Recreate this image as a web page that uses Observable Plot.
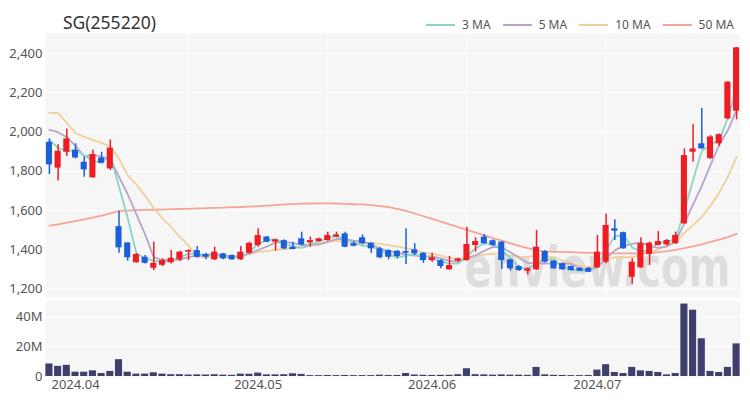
<!DOCTYPE html>
<html><head><meta charset="utf-8">
<script src="https://cdn.jsdelivr.net/npm/d3@7"></script>
<script src="https://cdn.jsdelivr.net/npm/@observablehq/plot@0.6"></script>
<style>
body{margin:0;background:#fff;font-family:"Noto Sans",sans-serif;}
#wrap{position:relative;width:750px;height:400px;overflow:hidden;}
#head{position:relative;height:33px;}
#title{position:absolute;left:63px;top:10px;font-size:17.5px;line-height:24px;color:#333;white-space:nowrap;}
#legend{position:absolute;right:16px;top:16px;display:flex;gap:12px;font-size:12px;line-height:18px;color:#555;}
.item{display:flex;align-items:center;white-space:nowrap;}
.sw{width:29px;height:2px;margin-right:7px;}
svg{display:block;}
</style></head>
<body>
<div id="wrap">
  <div id="head"><div id="title">SG(255220)</div><div id="legend"></div></div>
  <div id="price"></div>
  <div id="vol"></div>
</div>
<script>
const dates = ["2024-03-27","2024-03-28","2024-03-29",
"2024-04-01","2024-04-02","2024-04-03","2024-04-04","2024-04-05","2024-04-08","2024-04-09","2024-04-11","2024-04-12","2024-04-15","2024-04-16","2024-04-17","2024-04-18","2024-04-19","2024-04-22","2024-04-23","2024-04-24","2024-04-25","2024-04-26","2024-04-29","2024-04-30",
"2024-05-02","2024-05-03","2024-05-07","2024-05-08","2024-05-09","2024-05-10","2024-05-13","2024-05-14","2024-05-16","2024-05-17","2024-05-20","2024-05-21","2024-05-22","2024-05-23","2024-05-24","2024-05-27","2024-05-28","2024-05-29","2024-05-30","2024-05-31",
"2024-06-03","2024-06-04","2024-06-05","2024-06-07","2024-06-10","2024-06-11","2024-06-12","2024-06-13","2024-06-14","2024-06-17","2024-06-18","2024-06-19","2024-06-20","2024-06-21","2024-06-24","2024-06-25","2024-06-26","2024-06-27","2024-06-28",
"2024-07-01","2024-07-02","2024-07-03","2024-07-04","2024-07-05","2024-07-08","2024-07-09","2024-07-10","2024-07-11","2024-07-12","2024-07-15","2024-07-16","2024-07-17","2024-07-18","2024-07-19","2024-07-22","2024-07-23"];

const open = [1948,1816,1897,1906,1846,1767,1868,1812,1518,1435,
1334,1362,1306,1321,1334,1349,1388,1396,1376,1349,
1379,1371,1349,1382,1422,1465,1439,1447,1413,1456,
1435,1442,1447,1465,1481,1431,1461,1433,1405,1396,
1393,1391,1400,1382,1345,1345,1298,1342,1345,1422,
1465,1446,1439,1349,1315,1291,1298,1391,1342,1329,
1315,1306,1306,1308,1337,1507,1487,1260,1308,1376,
1422,1425,1431,1532,1897,1940,1865,1940,2067,2106];

const high = [1965,1935,2016,1940,1872,1909,1897,1960,1595,1435,
1382,1371,1439,1354,1396,1393,1400,1417,1382,1413,
1382,1374,1417,1439,1507,1468,1451,1451,1439,1490,
1465,1459,1490,1490,1490,1441,1476,1436,1413,1400,
1396,1507,1431,1385,1382,1349,1366,1357,1515,1461,
1478,1450,1442,1352,1318,1308,1498,1396,1345,1332,
1318,1308,1310,1473,1583,1553,1490,1354,1461,1440,
1493,1452,1490,1914,2037,2120,1982,1990,2256,2431];

const low = [1783,1750,1875,1863,1770,1765,1838,1804,1382,1342,
1332,1328,1294,1315,1328,1340,1345,1357,1349,1345,
1349,1347,1345,1378,1413,1436,1393,1400,1401,1420,
1413,1440,1444,1462,1411,1416,1425,1382,1354,1349,
1354,1325,1371,1331,1337,1303,1296,1337,1342,1388,
1428,1418,1300,1291,1291,1272,1296,1331,1301,1296,
1292,1289,1284,1305,1329,1447,1403,1224,1306,1320,
1420,1420,1428,1530,1846,1912,1860,1926,2062,2062];

const close = [1833,1902,1965,1868,1807,1885,1841,1918,1410,1359,
1376,1331,1331,1345,1357,1388,1396,1362,1362,1388,
1354,1349,1388,1433,1473,1439,1451,1405,1401,1425,
1447,1456,1473,1476,1413,1418,1431,1405,1359,1362,
1366,1382,1379,1345,1359,1315,1320,1354,1427,1442,
1431,1421,1345,1303,1294,1303,1413,1337,1303,1298,
1294,1291,1286,1388,1524,1495,1405,1337,1431,1433,
1442,1447,1473,1880,1914,1914,1975,1987,2254,2429];

// volume in millions
const volume = [8.4,6.8,7.5,2.9,2.9,3.8,2.0,3.4,11.3,2.9,
1.6,1.6,2.5,1.6,1.2,1.2,1.0,1.1,1.0,1.2,
0.9,0.8,1.6,1.5,2.3,1.1,1.1,1.2,1.8,1.4,
0.6,0.6,0.7,0.6,0.7,0.6,0.6,0.6,0.9,0.7,
0.7,2.0,1.0,0.8,0.7,0.8,0.8,1.2,5.2,1.2,
1.1,0.9,1.1,0.9,0.9,0.8,6.1,1.1,0.8,0.7,
0.6,0.6,0.7,4.3,7.9,2.7,2.0,6.1,3.8,3.4,
2.7,1.1,2.0,48.6,44.5,25.3,3.4,2.7,6.1,21.9];

const ma3 = [1960,1920,1900,1912,1880,1853,1844,1881,1723,1562,
1382,1355,1346,1336,1344,1363,1380,1382,1373,1371,
1368,1364,1364,1390,1431,1448,1454,1432,1419,1410,
1424,1443,1459,1468,1454,1436,1421,1418,1398,1375,
1362,1370,1376,1369,1361,1340,1331,1330,1367,1408,
1433,1431,1399,1356,1314,1300,1337,1351,1351,1313,
1298,1294,1290,1322,1399,1469,1475,1412,1391,1400,
1435,1441,1454,1600,1756,1903,1934,1959,2072,2223];

const ma5 = [2011,1999,1973,1931,1875,1885,1873,1864,1772,1683,
1581,1479,1361,1348,1348,1350,1363,1370,1373,1379,
1372,1363,1368,1382,1399,1416,1437,1440,1434,1424,
1426,1427,1440,1455,1453,1447,1442,1429,1405,1395,
1385,1375,1370,1367,1366,1356,1344,1339,1355,1372,
1395,1415,1413,1388,1359,1333,1332,1330,1330,1331,
1329,1305,1294,1311,1357,1397,1420,1430,1438,1420,
1410,1418,1445,1535,1631,1726,1831,1934,2009,2112];

const ma10 = [2098,2098,2045,1995,1975,1960,1945,1925,1865,1779,
1733,1676,1613,1560,1515,1466,1421,1366,1361,1364,
1361,1363,1369,1378,1389,1394,1400,1404,1408,1412,
1421,1432,1440,1445,1439,1437,1435,1435,1430,1424,
1416,1409,1399,1386,1381,1370,1359,1354,1361,1369,
1375,1380,1375,1371,1365,1363,1373,1371,1359,1345,
1332,1318,1312,1321,1344,1363,1362,1362,1375,1388,
1403,1419,1438,1487,1526,1568,1625,1690,1772,1872];

const ma50 = [1523,1530,1538,1546,1555,1564,1574,1586,1598,1600,
1602,1603,1604,1605,1607,1608,1609,1611,1612,1614,
1615,1617,1618,1620,1622,1625,1628,1631,1633,1635,
1636,1637,1637,1636,1634,1632,1631,1628,1623,1617,
1608,1598,1585,1571,1558,1544,1530,1516,1502,1488,
1474,1460,1447,1433,1420,1408,1397,1392,1390,1389,
1388,1386,1384,1382,1382,1382,1382,1382,1383,1385,
1388,1393,1400,1408,1418,1428,1440,1452,1465,1481];

const priceTicks = [1200,1400,1600,1800,2000,2200,2400];
const volTicks = [0,20,40];
const volLabels = ["0","20M","40M"];
const monthTicks = ["2024-04-01","2024-05-02","2024-06-03","2024-07-01"];
const monthLabels = ["2024.04","2024.05","2024.06","2024.07"];
const gridDates = ["2024-04-19","2024-05-16","2024-06-10","2024-07-02"];
const maNames = ["3 MA","5 MA","10 MA","50 MA"];
const maKeys = ["ma3","ma5","ma10","ma50"];
const maColors = ["#8ad5c6","#b6a5c8","#f0cf9c","#f6a496"];
const watermark = "enview.com";

const UP = "#ef1c23", DOWN = "#1b5fd9", VOLC = "#3f3f6e";

const rows = dates.map((d, i) => ({
  date: d, open: open[i], high: high[i], low: low[i], close: close[i],
  vol: volume[i], ma3: ma3[i], ma5: ma5[i], ma10: ma10[i], ma50: ma50[i]
}));
const col = d => d.close >= d.open ? UP : DOWN;

// legend
const leg = document.getElementById("legend");
maNames.forEach((n, i) => {
  const it = document.createElement("div"); it.className = "item";
  const sw = document.createElement("span"); sw.className = "sw"; sw.style.background = maColors[i];
  const tx = document.createElement("span"); tx.textContent = n;
  it.appendChild(sw); it.appendChild(tx); leg.appendChild(it);
});

const baseStyle = {fontFamily: "'Noto Sans', sans-serif", fontSize: "13px", color: "#555", background: "transparent", overflow: "visible"};
const xBand = {type: "band", domain: dates, paddingInner: 0.3, paddingOuter: 0.1};

const maMarks = [3,2,1,0].map(i => Plot.lineY(rows, {x: "date", y: maKeys[i], stroke: maColors[i], strokeWidth: 1.8}));

const price = Plot.plot({
  width: 750, height: 267,
  marginTop: 0, marginBottom: 3, marginLeft: 45, marginRight: 10,
  style: baseStyle,
  x: {...xBand, axis: null},
  y: {domain: [1157, 2502], ticks: priceTicks, tickFormat: d3.format(","), tickSize: 0, tickPadding: 3, label: null},
  marks: [
    Plot.frame({fill: "#f6f6f6", stroke: "none"}),
    Plot.ruleY(priceTicks, {stroke: "#fff", strokeWidth: 1}),
    Plot.ruleX(gridDates, {stroke: "#fff", strokeWidth: 1}),
    Plot.text([watermark], {frameAnchor: "bottom-right", dx: -10, dy: -29, lineAnchor: "middle", textAnchor: "end", fontSize: 56, fontWeight: "bold", fontFamily: "'Liberation Sans Narrow', 'DejaVu Sans Condensed', sans-serif", fill: "#000", fillOpacity: 0.1}),
    ...maMarks,
    Plot.ruleX(rows, {x: "date", y1: "low", y2: "high", stroke: col, strokeWidth: 1.5}),
    Plot.barY(rows, {x: "date", y1: "open", y2: "close", fill: col})
  ]
});
d3.select(price).selectAll("text").filter(function(){ return this.textContent === watermark; })
  .attr("textLength", 266).attr("lengthAdjust", "spacingAndGlyphs");
document.getElementById("price").appendChild(price);

const vol = Plot.plot({
  width: 750, height: 100,
  marginTop: 0, marginBottom: 24, marginLeft: 45, marginRight: 10,
  style: baseStyle,
  x: {...xBand, ticks: monthTicks, tickFormat: d => { const k = monthTicks.indexOf(d); return k >= 0 ? monthLabels[k] : ""; }, tickSize: 0, tickPadding: 3, label: null},
  y: {domain: [0, 51], ticks: volTicks, tickFormat: d => volLabels[volTicks.indexOf(d)], tickSize: 0, tickPadding: 3, label: null},
  marks: [
    Plot.frame({fill: "#f6f6f6", stroke: "none"}),
    Plot.ruleY(volTicks.slice(1), {stroke: "#fff", strokeWidth: 1}),
    Plot.barY(rows, {x: "date", y: "vol", fill: VOLC, insetLeft: -0.5, insetRight: -0.5})
  ]
});
document.getElementById("vol").appendChild(vol);
</script>
</body></html>
